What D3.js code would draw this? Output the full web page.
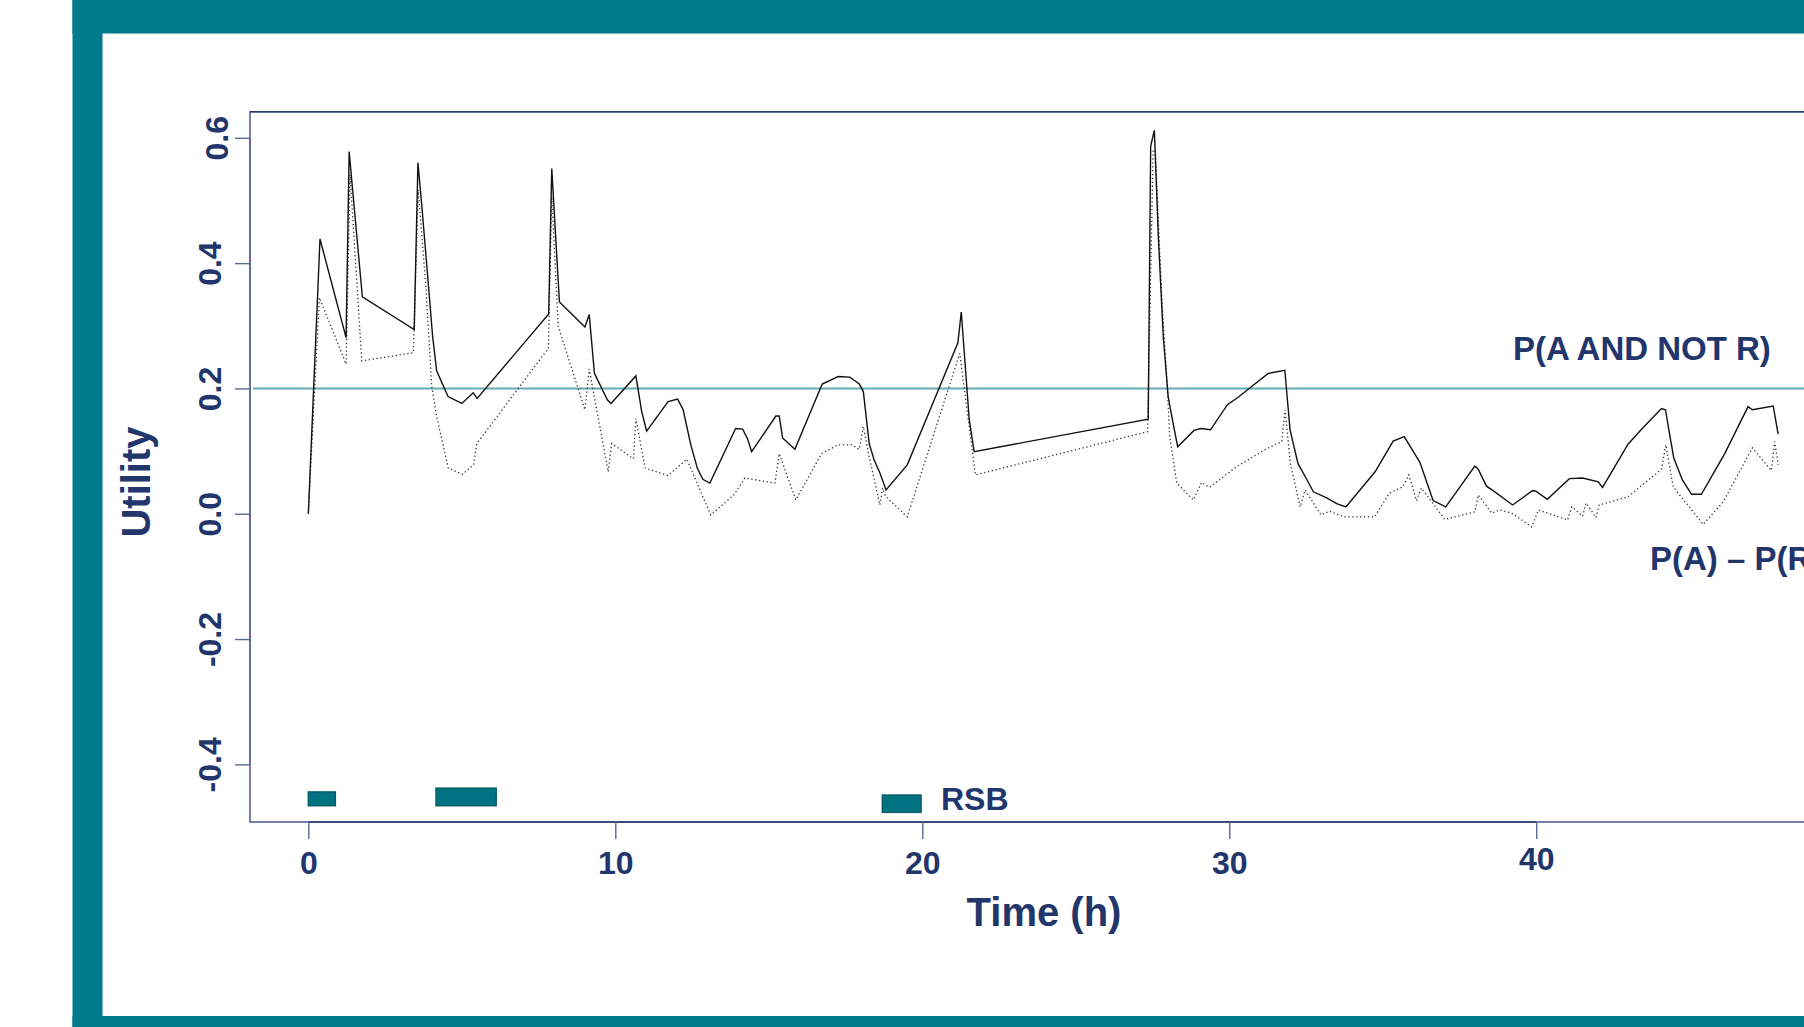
<!DOCTYPE html>
<html>
<head>
<meta charset="utf-8">
<script src="https://cdn.jsdelivr.net/npm/d3@7"></script>
<style>
  html, body { margin: 0; padding: 0; background: #ffffff; overflow: hidden; }
  svg { display: block; font-family: "Liberation Sans", Arial, Helvetica, sans-serif; font-weight: bold; }
</style>
</head>
<body>
<svg id="chart" width="1804" height="1027"></svg>
<script>
// ---- data ----
const solidTime = [0,0.38,1.23,1.33,1.76,3.45,3.57,3.70,4.05,4.18,4.55,5.00,5.37,5.50,7.83,7.93,8.18,9.01,9.15,9.32,9.74,9.86,10.67,10.86,11.02,11.72,12.03,12.21,12.46,12.67,12.85,13.08,13.92,14.15,14.32,14.44,15.23,15.34,15.45,15.85,16.74,17.26,17.64,17.95,18.08,18.27,18.43,18.62,18.82,19.51,20.52,21.16,21.27,21.53,21.69,27.36,27.44,27.56,27.69,27.85,28.01,28.16,28.32,28.85,29.07,29.39,29.94,30.29,30.78,31.27,31.81,31.98,32.24,32.50,32.74,33.19,33.50,33.80,34.75,35.34,35.70,36.21,36.64,37.05,38.00,38.11,38.38,38.65,39.23,39.88,39.99,40.36,41.08,41.51,42.02,42.16,42.99,43.43,44.08,44.21,44.33,44.48,44.76,45.06,45.38,46.14,46.90,47.04,47.72,47.88];
const solidUtility = [0,0.4385,0.281,0.578,0.346,0.294,0.560,0.49,0.283,0.228,0.187,0.176,0.193,0.184,0.319,0.551,0.338,0.298,0.318,0.224,0.182,0.176,0.220,0.163,0.132,0.179,0.183,0.166,0.110,0.073,0.055,0.049,0.136,0.135,0.118,0.099,0.156,0.156,0.121,0.103,0.207,0.219,0.218,0.207,0.195,0.112,0.086,0.065,0.038,0.078,0.197,0.273,0.322,0.150,0.099,0.151,0.587,0.612,0.442,0.283,0.187,0.147,0.107,0.133,0.136,0.134,0.174,0.186,0.205,0.224,0.229,0.134,0.080,0.057,0.035,0.025,0.016,0.011,0.067,0.116,0.123,0.082,0.021,0.011,0.076,0.071,0.044,0.035,0.014,0.037,0.036,0.023,0.056,0.057,0.051,0.042,0.111,0.135,0.168,0.166,0.131,0.089,0.054,0.031,0.031,0.096,0.171,0.166,0.172,0.127];

const dottedTime = [0,0.36,1.23,1.36,1.74,3.42,3.58,3.83,4.02,4.18,4.56,5.02,5.38,5.49,7.82,7.93,8.14,9.01,9.15,9.77,9.88,10.59,10.67,10.97,11.71,12.33,13.11,13.86,14.22,15.20,15.34,15.88,16.72,17.26,17.70,17.95,18.08,18.27,18.62,18.71,18.80,19.51,21.22,21.73,27.34,27.52,27.59,27.80,27.98,28.06,28.29,28.83,29.10,29.35,30.24,31.22,31.71,31.82,31.99,32.31,32.47,32.99,33.26,33.75,34.73,35.22,35.65,35.85,36.10,36.26,37.02,38.00,38.11,38.55,38.82,39.20,39.85,40.07,41.02,41.16,41.51,41.62,41.95,42.05,42.99,44.08,44.22,44.46,45.44,46.09,47.04,47.66,47.77,47.88];
const dottedUtility = [0,0.345,0.239,0.541,0.244,0.257,0.517,0.362,0.203,0.155,0.073,0.063,0.078,0.112,0.264,0.506,0.299,0.166,0.231,0.067,0.112,0.088,0.152,0.073,0.061,0.087,-0.002,0.030,0.057,0.049,0.096,0.022,0.096,0.110,0.110,0.103,0.139,0.091,0.014,0.041,0.028,-0.005,0.256,0.062,0.131,0.580,0.580,0.346,0.203,0.123,0.049,0.022,0.050,0.042,0.075,0.104,0.115,0.166,0.080,0.011,0.038,-0.002,0.004,-0.005,-0.005,0.033,0.043,0.062,0.021,0.041,-0.009,0.003,0.030,0.001,0.006,0.001,-0.021,0.006,-0.010,0.011,-0.004,0.017,-0.006,0.014,0.027,0.071,0.110,0.043,-0.017,0.019,0.105,0.069,0.115,0.078];

const rsbStart  = [0, 4.16, 18.7];
const rsbEnd    = [0.88, 6.12, 19.96];
const rsbTop    = [-0.444, -0.438, -0.449];
const rsbBottom = [-0.466, -0.466, -0.4766];

const thresholdValue = 0.2;
const xTicks = [0, 10, 20, 30, 40];
const yTicks = [-0.4, -0.2, 0.0, 0.2, 0.4, 0.6];
const yTickLabels = ["-0.4", "-0.2", "0.0", "0.2", "0.4", "0.6"];
const xTitle = "Time (h)";
const yTitle = "Utility";
const thresholdLabel = "P(A AND NOT R)";
const diffLabel = "P(A) – P(R)";
const rsbLabel = "RSB";

// ---- drawing ----
const W = 1804, H = 1027;
const navy = "#22366c";
const teal = "#00798b";
const svg = d3.select("#chart");

svg.append("rect").attr("x", 0).attr("y", 0).attr("width", W).attr("height", H).attr("fill", "#ffffff");
// teal frame
svg.append("rect").attr("x", 72.5).attr("y", 0).attr("width", W - 72.5).attr("height", 33.5).attr("fill", teal);
svg.append("rect").attr("x", 72.5).attr("y", 0).attr("width", 30).attr("height", H).attr("fill", teal);
svg.append("rect").attr("x", 72.5).attr("y", 1016).attr("width", W - 72.5).attr("height", H - 1016).attr("fill", teal);

const plotL = 250, plotR = 1838, plotT = 111.7, plotB = 822;
const x = d3.scaleLinear().domain([-1.9, 49.83]).range([plotL, plotR]);
const y = d3.scaleLinear().domain([-0.492, 0.6417]).range([plotB, plotT]);

// plot box
svg.append("rect").attr("x", plotL).attr("y", plotT).attr("width", plotR - plotL).attr("height", plotB - plotT)
  .attr("fill", "none").attr("stroke", "#4a5888").attr("stroke-width", 1.5);
svg.append("line").attr("x1", plotL).attr("x2", W).attr("y1", plotT).attr("y2", plotT)
  .attr("stroke", "#2c3e75").attr("stroke-width", 1.6);

// threshold line
svg.append("line").attr("x1", plotL + 3).attr("x2", W).attr("y1", y(thresholdValue)).attr("y2", y(thresholdValue))
  .attr("stroke", "#62aab4").attr("stroke-width", 2);

// x axis
const xAxis = d3.axisBottom(x).tickValues(xTicks).tickSize(17).tickPadding(12).tickFormat(d3.format("d"));
const gx = svg.append("g").attr("transform", `translate(0,${plotB})`).call(xAxis);
gx.select(".domain").attr("d", `M${x(0)},0H${x(40)}`).attr("stroke", "#2a3a70").attr("stroke-width", 1.6);
gx.selectAll(".tick line").attr("stroke", "#5a6894").attr("stroke-width", 1.4);
gx.selectAll(".tick text").attr("fill", navy).attr("font-size", 32).attr("font-weight", "bold")
  .attr("font-family", "'Liberation Sans', Arial, sans-serif")
  .attr("dy", "0.71em")
  .attr("transform", d => d === 40 ? "translate(0,-4)" : null);

// y axis
const yAxis = d3.axisLeft(y).tickValues(yTicks).tickSize(15).tickFormat((d, i) => yTickLabels[i]);
const gy = svg.append("g").attr("transform", `translate(${plotL},0)`).call(yAxis);
gy.select(".domain").attr("d", `M0,${y(-0.4)}V${y(0.6)}`).attr("stroke", "#5a6894").attr("stroke-width", 1.5);
gy.selectAll(".tick line").attr("stroke", "#5a6894").attr("stroke-width", 1.4);
gy.selectAll(".tick text").attr("fill", navy).attr("font-size", 32).attr("font-weight", "bold")
  .attr("font-family", "'Liberation Sans', Arial, sans-serif")
  .attr("text-anchor", "middle").attr("x", 0).attr("dy", 0)
  .attr("transform", d => `translate(${d === 0.6 ? -22 : -29},0) rotate(-90)`);

// lines
const solidData = solidTime.map((t, i) => [t, solidUtility[i]]);
const dottedData = dottedTime.map((t, i) => [t, dottedUtility[i]]);
const line = d3.line().x(d => x(d[0])).y(d => y(d[1]));

svg.append("path").datum(dottedData).attr("d", line).attr("fill", "none")
  .attr("stroke", "#333333").attr("stroke-width", 1.3).attr("stroke-dasharray", "1.3 2.6");
svg.append("path").datum(solidData).attr("d", line).attr("fill", "none")
  .attr("stroke", "#111111").attr("stroke-width", 1.4).attr("stroke-linejoin", "miter");

// RSB bars
const bars = rsbStart.map((s, i) => ({ s, e: rsbEnd[i], t: rsbTop[i], b: rsbBottom[i] }));
svg.selectAll("rect.rsb").data(bars).enter().append("rect").attr("class", "rsb")
  .attr("x", d => x(d.s)).attr("width", d => x(d.e) - x(d.s))
  .attr("y", d => y(d.t)).attr("height", d => y(d.b) - y(d.t))
  .attr("fill", "#007383").attr("stroke", "#0b5c68").attr("stroke-width", 1.5);

// labels
const lab = (txt, xx, yy, size, anchor) => svg.append("text").text(txt).attr("x", xx).attr("y", yy)
  .attr("fill", navy).attr("font-size", size).attr("font-weight", "bold").attr("text-anchor", anchor || "start");

lab(rsbLabel, 941, 810, 32);
lab(thresholdLabel, 1513, 360, 33);
lab(diffLabel, 1650, 570, 33);
lab(xTitle, 1044, 926, 40, "middle");
svg.append("text").text(yTitle).attr("transform", "translate(150,482) rotate(-90)")
  .attr("fill", navy).attr("font-size", 40).attr("font-weight", "bold").attr("text-anchor", "middle");
</script>
</body>
</html>
